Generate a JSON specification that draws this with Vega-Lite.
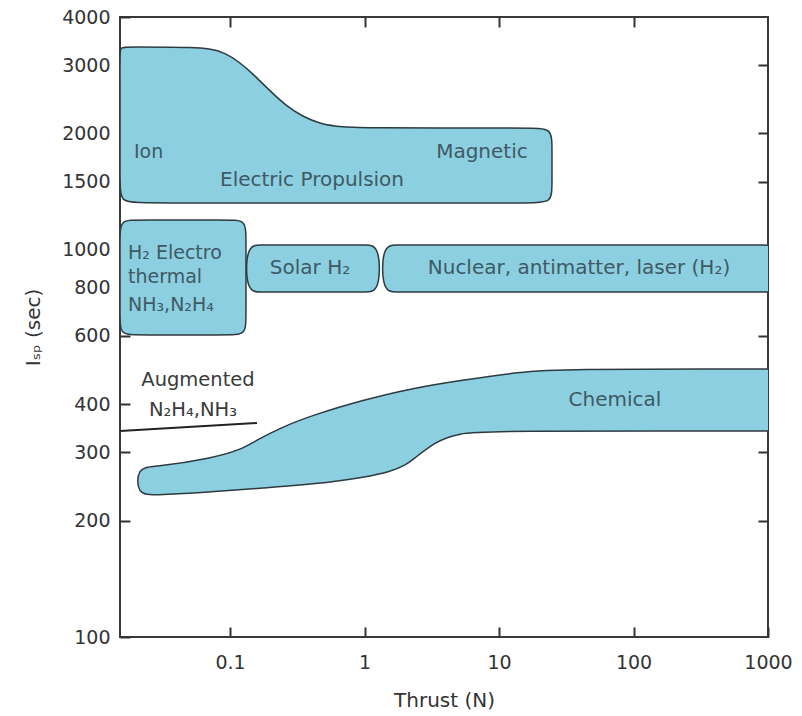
{
  "$schema": "https://vega.github.io/schema/vega-lite/v6.json",
  "width": 648,
  "height": 620,
  "autosize": {"type": "none"},
  "padding": {"left": 120, "top": 17, "right": 34, "bottom": 79},
  "background": "white",
  "config": {
    "view": {"stroke": "#3a3a3a", "strokeWidth": 2},
    "font": "DejaVu Sans",
    "axis": {
      "domain": false,
      "grid": false,
      "tickColor": "#333333",
      "tickWidth": 2,
      "tickSize": -10,
      "labelFont": "DejaVu Sans",
      "labelFontSize": 19,
      "labelColor": "#333333",
      "labelOverlap": false,
      "labelFlush": false,
      "titleFont": "DejaVu Sans",
      "titleFontSize": 20,
      "titleFontWeight": "normal",
      "titleColor": "#333333"
    }
  },
  "datasets": {
    "shapes": [
      {"shape": "ep", "i": 1, "x": 0.0152, "y": 3346},
      {"shape": "ep", "i": 2, "x": 0.01743, "y": 3346},
      {"shape": "ep", "i": 3, "x": 0.05489, "y": 3346},
      {"shape": "ep", "i": 4, "x": 0.09173, "y": 3287},
      {"shape": "ep", "i": 5, "x": 0.1533, "y": 2833},
      {"shape": "ep", "i": 6, "x": 0.2563, "y": 2342},
      {"shape": "ep", "i": 7, "x": 0.4665, "y": 2091},
      {"shape": "ep", "i": 8, "x": 0.9251, "y": 2066},
      {"shape": "ep", "i": 9, "x": 17.58, "y": 2066},
      {"shape": "ep", "i": 10, "x": 24.76, "y": 2066},
      {"shape": "ep", "i": 11, "x": 24.76, "y": 1834},
      {"shape": "ep", "i": 12, "x": 24.76, "y": 1490},
      {"shape": "ep", "i": 13, "x": 24.76, "y": 1322},
      {"shape": "ep", "i": 14, "x": 17.58, "y": 1322},
      {"shape": "ep", "i": 15, "x": 0.02215, "y": 1322},
      {"shape": "ep", "i": 16, "x": 0.0152, "y": 1322},
      {"shape": "ep", "i": 17, "x": 0.0152, "y": 1508},
      {"shape": "ep", "i": 18, "x": 0.0152, "y": 3190},

      {"shape": "h2", "i": 1, "x": 0.0152, "y": 1196},
      {"shape": "h2", "i": 2, "x": 0.02069, "y": 1196},
      {"shape": "h2", "i": 3, "x": 0.09657, "y": 1196},
      {"shape": "h2", "i": 4, "x": 0.1314, "y": 1196},
      {"shape": "h2", "i": 5, "x": 0.1314, "y": 1074},
      {"shape": "h2", "i": 6, "x": 0.1314, "y": 671.3},
      {"shape": "h2", "i": 7, "x": 0.1314, "y": 603.1},
      {"shape": "h2", "i": 8, "x": 0.09657, "y": 603.1},
      {"shape": "h2", "i": 9, "x": 0.02069, "y": 603.1},
      {"shape": "h2", "i": 10, "x": 0.0152, "y": 603.1},
      {"shape": "h2", "i": 11, "x": 0.0152, "y": 671.3},
      {"shape": "h2", "i": 12, "x": 0.0152, "y": 1074},

      {"shape": "solar", "i": 1, "x": 0.17, "y": 1030},
      {"shape": "solar", "i": 2, "x": 0.216, "y": 1030},
      {"shape": "solar", "i": 3, "x": 0.7931, "y": 1030},
      {"shape": "solar", "i": 4, "x": 1.008, "y": 1030},
      {"shape": "solar", "i": 5, "x": 1.303, "y": 1030},
      {"shape": "solar", "i": 6, "x": 1.303, "y": 778.9},
      {"shape": "solar", "i": 7, "x": 1.008, "y": 778.9},
      {"shape": "solar", "i": 8, "x": 0.7931, "y": 778.9},
      {"shape": "solar", "i": 9, "x": 0.216, "y": 778.9},
      {"shape": "solar", "i": 10, "x": 0.17, "y": 778.9},
      {"shape": "solar", "i": 11, "x": 0.1314, "y": 778.9},
      {"shape": "solar", "i": 12, "x": 0.1314, "y": 1030},

      {"shape": "nuclear", "i": 1, "x": 1.743, "y": 1030},
      {"shape": "nuclear", "i": 2, "x": 2.178, "y": 1030},
      {"shape": "nuclear", "i": 3, "x": 871.4, "y": 1030},
      {"shape": "nuclear", "i": 4, "x": 9576, "y": 1030},
      {"shape": "nuclear", "i": 5, "x": 9576, "y": 778.9},
      {"shape": "nuclear", "i": 6, "x": 871.4, "y": 778.9},
      {"shape": "nuclear", "i": 7, "x": 2.178, "y": 778.9},
      {"shape": "nuclear", "i": 8, "x": 1.743, "y": 778.9},
      {"shape": "nuclear", "i": 9, "x": 1.349, "y": 778.9},
      {"shape": "nuclear", "i": 10, "x": 1.349, "y": 1030},

      {"shape": "chem", "i": 1, "x": 0.02767, "y": 275.0},
      {"shape": "chem", "i": 2, "x": 0.07469, "y": 290.1},
      {"shape": "chem", "i": 3, "x": 0.1186, "y": 304.2},
      {"shape": "chem", "i": 4, "x": 0.1587, "y": 322.9},
      {"shape": "chem", "i": 5, "x": 0.2352, "y": 346.8},
      {"shape": "chem", "i": 6, "x": 0.4138, "y": 374.7},
      {"shape": "chem", "i": 7, "x": 0.974, "y": 409.6},
      {"shape": "chem", "i": 8, "x": 2.292, "y": 440.0},
      {"shape": "chem", "i": 9, "x": 5.394, "y": 461.5},
      {"shape": "chem", "i": 10, "x": 14.32, "y": 484.0},
      {"shape": "chem", "i": 11, "x": 28.39, "y": 492.6},
      {"shape": "chem", "i": 12, "x": 871.4, "y": 492.6},
      {"shape": "chem", "i": 13, "x": 9576, "y": 492.6},
      {"shape": "chem", "i": 14, "x": 9576, "y": 340.7},
      {"shape": "chem", "i": 15, "x": 871.4, "y": 340.7},
      {"shape": "chem", "i": 16, "x": 9.334, "y": 340.7},
      {"shape": "chem", "i": 17, "x": 4.952, "y": 336.7},
      {"shape": "chem", "i": 18, "x": 3.341, "y": 319.0},
      {"shape": "chem", "i": 19, "x": 2.373, "y": 290.1},
      {"shape": "chem", "i": 20, "x": 1.743, "y": 266.9},
      {"shape": "chem", "i": 21, "x": 0.5536, "y": 250.0},
      {"shape": "chem", "i": 22, "x": 0.1758, "y": 242.7},
      {"shape": "chem", "i": 23, "x": 0.0568, "y": 235.6},
      {"shape": "chem", "i": 24, "x": 0.02767, "y": 232.8},
      {"shape": "chem", "i": 25, "x": 0.02034, "y": 232.8},
      {"shape": "chem", "i": 26, "x": 0.02034, "y": 275.0}
    ],
    "aug": [
      {"x": 0.0152, "y": 340.7},
      {"x": 0.1587, "y": 357.3}
    ],
    "labelsLeft": [
      {"text": "Ion", "x": 0.01932, "y": 1792},
      {"text": "H₂ Electro", "x": 0.01743, "y": 982.3},
      {"text": "thermal", "x": 0.01743, "y": 851.7},
      {"text": "NH₃,N₂H₄", "x": 0.01743, "y": 720.9}
    ],
    "labelsCenter": [
      {"text": "Electric Propulsion", "x": 0.4069, "y": 1517},
      {"text": "Magnetic", "x": 7.468, "y": 1792},
      {"text": "Solar H₂", "x": 0.3931, "y": 898.4},
      {"text": "Nuclear, antimatter, laser (H₂)", "x": 39.31, "y": 898.4},
      {"text": "Chemical", "x": 72.8, "y": 409.6}
    ],
    "labelsAug": [
      {"text": "Augmented", "x": 0.05779, "y": 461.5},
      {"text": "N₂H₄,NH₃", "x": 0.05305, "y": 386.0}
    ]
  },
  "layer": [
    {
      "data": {"name": "shapes"},
      "mark": {"type": "line", "interpolate": "basis-closed", "fill": "#8ccfe0", "stroke": "#2d3b40", "strokeWidth": 1.5, "clip": true},
      "encoding": {
        "x": {"field": "x", "type": "quantitative", "scale": {"type": "log", "domain": [0.0152, 1000], "nice": false},
          "axis": {"orient": "bottom", "values": [0.1, 1, 10, 100, 1000], "format": "~g", "labelPadding": 26, "title": "Thrust (N)", "titleY": 63, "titleBaseline": "middle"}},
        "y": {"field": "y", "type": "quantitative", "scale": {"type": "log", "domain": [100, 4000], "nice": false},
          "axis": {"orient": "left", "values": [100, 200, 300, 400, 600, 800, 1000, 1500, 2000, 3000, 4000], "format": "~g", "labelPadding": 20, "title": "Iₛₚ (sec)", "titleX": -87, "titleBaseline": "middle"}},
        "detail": {"field": "shape"},
        "order": {"field": "i", "type": "quantitative"}
      }
    },
    {
      "data": {"name": "aug"},
      "mark": {"type": "line", "stroke": "#222222", "strokeWidth": 2},
      "encoding": {
        "x": {"field": "x", "type": "quantitative", "scale": {"type": "log", "domain": [0.0152, 1000], "nice": false},
          "axis": {"orient": "top", "values": [0.1, 1, 10, 100], "labels": false, "title": null}},
        "y": {"field": "y", "type": "quantitative", "scale": {"type": "log", "domain": [100, 4000], "nice": false},
          "axis": {"orient": "right", "values": [200, 300, 400, 600, 800, 1000, 1500, 2000, 3000], "labels": false, "title": null}}
      }
    },
    {
      "data": {"name": "labelsLeft"},
      "mark": {"type": "text", "align": "left", "baseline": "middle", "fontSize": 19, "color": "#3f5964", "font": "DejaVu Sans"},
      "encoding": {
        "x": {"field": "x", "type": "quantitative", "scale": {"type": "log", "domain": [0.0152, 1000], "nice": false}, "axis": null},
        "y": {"field": "y", "type": "quantitative", "scale": {"type": "log", "domain": [100, 4000], "nice": false}, "axis": null},
        "text": {"field": "text"}
      }
    },
    {
      "data": {"name": "labelsCenter"},
      "mark": {"type": "text", "align": "center", "baseline": "middle", "fontSize": 20, "color": "#3f5964", "font": "DejaVu Sans"},
      "encoding": {
        "x": {"field": "x", "type": "quantitative", "scale": {"type": "log", "domain": [0.0152, 1000], "nice": false}, "axis": null},
        "y": {"field": "y", "type": "quantitative", "scale": {"type": "log", "domain": [100, 4000], "nice": false}, "axis": null},
        "text": {"field": "text"}
      }
    },
    {
      "data": {"name": "labelsAug"},
      "mark": {"type": "text", "align": "center", "baseline": "middle", "fontSize": 19.5, "color": "#3a3a3a", "font": "DejaVu Sans"},
      "encoding": {
        "x": {"field": "x", "type": "quantitative", "scale": {"type": "log", "domain": [0.0152, 1000], "nice": false}, "axis": null},
        "y": {"field": "y", "type": "quantitative", "scale": {"type": "log", "domain": [100, 4000], "nice": false}, "axis": null},
        "text": {"field": "text"}
      }
    }
  ],
  "resolve": {"axis": {"x": "independent", "y": "independent"}}
}
